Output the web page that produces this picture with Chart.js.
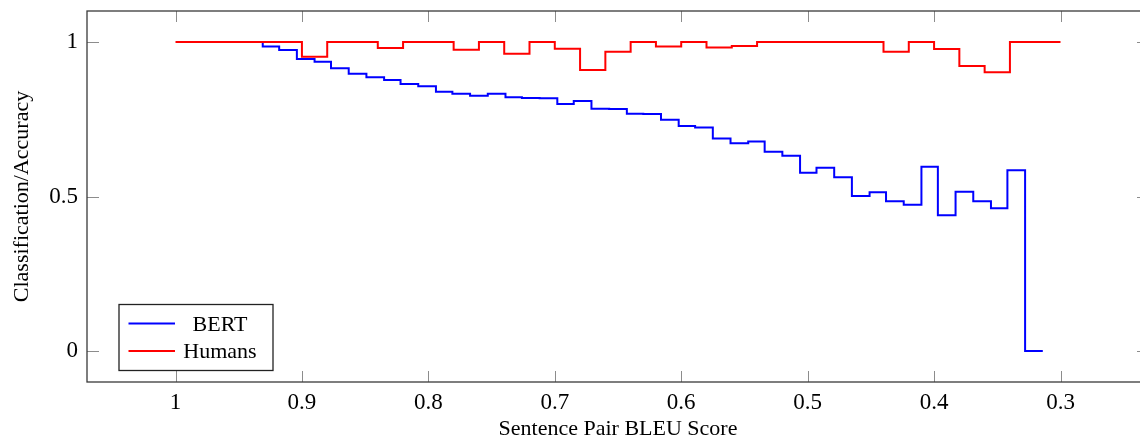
<!DOCTYPE html>
<html>
<head>
<meta charset="utf-8">
<script src="https://cdn.jsdelivr.net/npm/chart.js@4.4.1/dist/chart.umd.min.js"></script>
<style>
  html, body { margin: 0; padding: 0; background: #fff; overflow: hidden; }
  #wrap { position: absolute; left: 0; top: 0; width: 1152px; height: 439px; }
</style>
</head>
<body>
<div id="wrap"><canvas id="chart" width="1152" height="439"></canvas></div>
<script>
// BLEU bins (x) and accuracy (y)
const bertX = [0.986, 0.973, 0.959, 0.945, 0.931, 0.918, 0.904, 0.890, 0.877, 0.863,
               0.849, 0.835, 0.822, 0.808, 0.794, 0.781, 0.767, 0.753, 0.739, 0.726,
               0.712, 0.698, 0.685, 0.671, 0.657, 0.643, 0.630, 0.616, 0.602, 0.589,
               0.575, 0.561, 0.547, 0.534, 0.520, 0.506, 0.493, 0.479, 0.465, 0.451,
               0.438, 0.424, 0.410, 0.397, 0.383, 0.369, 0.355, 0.342, 0.328, 0.314];
const bertY = [1.000, 1.000, 1.000, 1.000, 0.985, 0.974, 0.945, 0.936, 0.915, 0.897,
               0.886, 0.877, 0.864, 0.857, 0.839, 0.832, 0.826, 0.832, 0.821, 0.819,
               0.818, 0.799, 0.809, 0.784, 0.783, 0.768, 0.767, 0.748, 0.728, 0.723,
               0.688, 0.672, 0.678, 0.645, 0.632, 0.577, 0.593, 0.562, 0.502, 0.514,
               0.485, 0.473, 0.596, 0.439, 0.515, 0.485, 0.462, 0.585, 0.000, 0.000];

const humanX = [1.00, 0.98, 0.96, 0.94, 0.92, 0.90, 0.88, 0.86, 0.84, 0.82,
                0.80, 0.78, 0.76, 0.74, 0.72, 0.70, 0.68, 0.66, 0.64, 0.62,
                0.60, 0.58, 0.56, 0.54, 0.52, 0.50, 0.48, 0.46, 0.44, 0.42,
                0.40, 0.38, 0.36, 0.34, 0.32, 0.30];
const humanY = [1.000, 1.000, 1.000, 1.000, 1.000, 0.952, 1.000, 1.000, 0.980, 1.000,
                1.000, 0.975, 1.000, 0.962, 1.000, 0.978, 0.909, 0.968, 1.000, 0.985,
                1.000, 0.982, 0.987, 1.000, 1.000, 1.000, 1.000, 1.000, 0.968, 1.000,
                0.977, 0.922, 0.902, 1.000, 1.000, 1.000];

const xTicks = [1, 0.9, 0.8, 0.7, 0.6, 0.5, 0.4, 0.3];
const yTicks = [0, 0.5, 1];

const serif = "'Liberation Serif', 'Times New Roman', serif";

const toPoints = (xs, ys) => xs.map((x, i) => ({ x, y: ys[i] }));

// plot frame and inward tick marks, pgfplots style
const framePlugin = {
  id: "frame",
  afterDraw(chart) {
    const { ctx, chartArea: a, scales } = chart;
    ctx.save();
    ctx.strokeStyle = "#8c8c8c";
    ctx.lineWidth = 1;
    ctx.beginPath();
    xTicks.forEach(v => {
      const px = Math.round(scales.x.getPixelForValue(v)) + 0.5;
      ctx.moveTo(px, a.bottom); ctx.lineTo(px, a.bottom - 11);
      ctx.moveTo(px, a.top); ctx.lineTo(px, a.top + 11);
    });
    yTicks.forEach(v => {
      const py = Math.round(scales.y.getPixelForValue(v)) + 0.5;
      ctx.moveTo(a.left, py); ctx.lineTo(a.left + 12, py);
      ctx.moveTo(a.right, py); ctx.lineTo(a.right - 12, py);
    });
    ctx.stroke();
    ctx.strokeStyle = "#3a3a3a";
    ctx.lineWidth = 1.3;
    ctx.strokeRect(a.left, a.top, a.right - a.left, a.bottom - a.top);
    ctx.restore();
  }
};

// legend box in the lower left corner of the plot
const legendPlugin = {
  id: "boxLegend",
  afterDraw(chart) {
    const { ctx, chartArea: a } = chart;
    const x0 = a.left + 32, y0 = 304.5, w = 154, h = 66;
    ctx.save();
    ctx.fillStyle = "#fff";
    ctx.fillRect(x0, y0, w, h);
    ctx.strokeStyle = "#222";
    ctx.lineWidth = 1.3;
    ctx.strokeRect(x0, y0, w, h);
    ctx.font = "22px " + serif;
    ctx.textAlign = "center";
    ctx.textBaseline = "alphabetic";
    chart.data.datasets.forEach((ds, i) => {
      const ly = y0 + 19 + i * 27.5;
      ctx.strokeStyle = ds.borderColor;
      ctx.lineWidth = 2;
      ctx.beginPath();
      ctx.moveTo(x0 + 9.5, ly); ctx.lineTo(x0 + 56, ly);
      ctx.stroke();
      ctx.fillStyle = "#000";
      ctx.fillText(ds.label, x0 + 101, ly + 7);
    });
    ctx.restore();
  }
};

new Chart(document.getElementById("chart"), {
  type: "line",
  data: {
    datasets: [
      {
        label: "BERT",
        data: toPoints(bertX, bertY),
        borderColor: "#0000ff",
        borderWidth: 2,
        stepped: "before",
        pointRadius: 0,
        borderJoinStyle: "miter",
        order: 2
      },
      {
        label: "Humans",
        data: toPoints(humanX, humanY),
        borderColor: "#ff0000",
        borderWidth: 2,
        stepped: "before",
        pointRadius: 0,
        borderJoinStyle: "miter",
        order: 1
      }
    ]
  },
  options: {
    responsive: false,
    animation: false,
    parsing: false,
    layout: { padding: { top: 0, right: 3, left: 0, bottom: 0 } },
    plugins: { legend: { display: false }, tooltip: { enabled: false } },
    scales: {
      x: {
        type: "linear",
        reverse: true,
        min: 0.23,
        max: 1.07,
        afterBuildTicks: s => { s.ticks = xTicks.map(v => ({ value: v })); },
        afterFit: s => { s.height = 57; },
        grid: { display: false },
        border: { display: false },
        ticks: {
          color: "#000",
          padding: -1,
          maxRotation: 0,
          autoSkip: false,
          font: { family: serif, size: 23, lineHeight: 1.2 },
          callback: v => String(v)
        },
        title: {
          display: true,
          text: "Sentence Pair BLEU Score",
          color: "#000",
          padding: { top: 0, bottom: 0 },
          font: { family: serif, size: 22, lineHeight: 0.9 }
        }
      },
      y: {
        type: "linear",
        min: -0.1,
        max: 1.1,
        afterBuildTicks: s => { s.ticks = yTicks.map(v => ({ value: v })); },
        afterFit: s => { s.width = 87; s.paddingTop = 11; s.paddingBottom = 0; },
        grid: { display: false },
        border: { display: false },
        ticks: {
          color: "#000",
          padding: 1,
          font: { family: serif, size: 23, lineHeight: 0.95 },
          callback: v => String(v)
        },
        title: {
          display: true,
          text: "Classification/Accuracy",
          color: "#000",
          padding: { top: 11, bottom: 0 },
          font: { family: serif, size: 22, lineHeight: 1 }
        }
      }
    }
  },
  plugins: [framePlugin, legendPlugin]
});
</script>
</body>
</html>
